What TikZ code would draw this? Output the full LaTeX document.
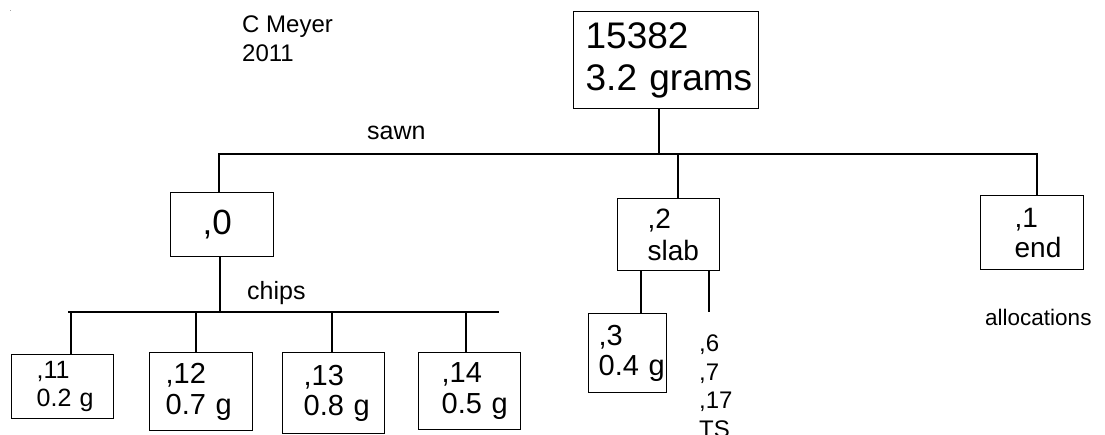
\documentclass[tikz,border=0pt]{standalone}
\usepackage{fontspec}
\setmainfont{Liberation Sans}
\hfuzz=100pt
\tikzset{
  box/.style={draw=black, line width=1.3pt, anchor=north west, align=left, inner ysep=0pt},
  link/.style={-, draw=black, line width=1.3pt},
  note/.style={anchor=north west, align=left, inner sep=0pt}
}
\begin{document}
\begin{tikzpicture}[x=1pt, y=-1pt]
\useasboundingbox (0,0) rectangle (1105,434);
\fill[gray!70] (9.5,9.5) rectangle (11,11);
% labels
\node[note, font=\fontsize{24}{29}\selectfont] (meyer) at (242,16) {C Meyer\\2011};
\node[anchor=base west, inner sep=0pt, font=\fontsize{25}{30}\selectfont] (sawn) at (367,139) {sawn};
\node[anchor=base west, inner sep=0pt, font=\fontsize{25}{30}\selectfont] (chips) at (247,299) {chips};
\node[anchor=base west, inner sep=0pt, font=\fontsize{22.5}{27}\selectfont] (alloc) at (985,325) {allocations};
\node[note, font=\fontsize{24}{28.5}\selectfont] (ts) at (699,335) {,6\\,7\\,17\\TS};
% boxes
\node[box, text width=161pt, inner xsep=12pt, minimum height=97pt, font=\fontsize{37}{42}\selectfont] (root) at (573,11) {15382\\3.2~grams};
\node[box, text width=39pt, inner xsep=32pt, minimum height=64pt, font=\fontsize{35}{40}\selectfont] (n0) at (170,192) {,0};
\node[box, text width=42pt, inner xsep=30pt, minimum height=72pt, font=\fontsize{28}{32}\selectfont] (n2) at (617,198) {,2\\slab};
\node[box, text width=35pt, inner xsep=34pt, minimum height=74pt, font=\fontsize{28}{30}\selectfont] (n1) at (980,195) {,1\\end};
\node[box, text width=52pt, inner xsep=25pt, minimum height=64pt, font=\fontsize{25}{28}\selectfont] (n11) at (11,354) {,11\\0.2~g};
\node[box, text width=71pt, inner xsep=16pt, minimum height=78pt, font=\fontsize{29}{31}\selectfont] (n12) at (149,352) {,12\\0.7~g};
\node[box, text width=60pt, inner xsep=21pt, minimum height=81pt, font=\fontsize{29}{30}\selectfont] (n13) at (282,352) {,13\\0.8~g};
\node[box, text width=56pt, inner xsep=23pt, minimum height=77pt, font=\fontsize{29}{31}\selectfont] (n14) at (418,352) {,14\\0.5~g};
\node[box, text width=58pt, inner xsep=10pt, minimum height=79pt, font=\fontsize{29}{30}\selectfont] (n3) at (588,313) {,3\\0.4~g};
% connectors
\coordinate (sL) at (219,154);
\coordinate (sM) at (659,154);
\coordinate (sT) at (678,154);
\coordinate (sR) at (1037,154);
\coordinate (cL) at (68,312);
\coordinate (c0) at (220,312);
\coordinate (cR) at (499,312);
\coordinate (tsEnd) at (709,312);
\draw[link] (root.south -| sM) -- (sM);
\draw[link] (sL |- n0.north) -- (sL) -- (sR) -- (sR |- n1.north);
\draw[link] (sT) -- (sT |- n2.north);
\draw[link] (n0.south -| c0) -- (c0);
\draw[link] (cL) -- (cR);
\foreach \n/\x in {11/71, 12/196, 13/332, 14/466}
  \draw[link] (\x,312) -- (\x,312 |- n\n.north);
\draw[link] (n2.south -| 641,0) -- (n3.north -| 641,0);
\draw[link] (n2.south -| tsEnd) -- (tsEnd);
\end{tikzpicture}
\end{document}
